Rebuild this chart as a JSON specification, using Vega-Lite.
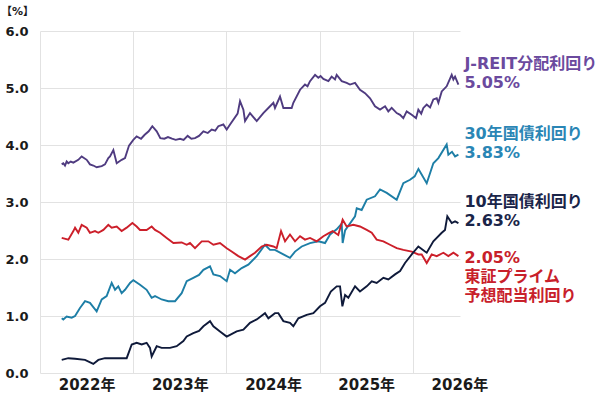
{
  "$schema": "https://vega.github.io/schema/vega-lite/v6.json",
  "width": 420,
  "height": 342,
  "autosize": "none",
  "padding": {"left": 40, "top": 31, "right": 140, "bottom": 20},
  "background": "white",
  "config": {"view": {"stroke": null}, "font": "'DejaVu Sans', 'Noto Sans CJK JP'"},
  "datasets": {
    "labels": [
      {"series": "J-REIT分配利回り", "lines": ["J-REIT分配利回り", "5.05%"]},
      {"series": "30年国債利回り", "lines": ["30年国債利回り", "3.83%"]},
      {"series": "10年国債利回り", "lines": ["10年国債利回り", "2.63%"]},
      {"series": "東証プライム予想配当利回り", "lines": ["2.05%", "東証プライム", "予想配当利回り"]}
    ],
    "yields": [
      {"series": "J-REIT分配利回り", "year": 2022.233, "value": 3.66},
      {"series": "J-REIT分配利回り", "year": 2022.250, "value": 3.68},
      {"series": "J-REIT分配利回り", "year": 2022.268, "value": 3.64},
      {"series": "J-REIT分配利回り", "year": 2022.286, "value": 3.71},
      {"series": "J-REIT分配利回り", "year": 2022.304, "value": 3.68},
      {"series": "J-REIT分配利回り", "year": 2022.330, "value": 3.71},
      {"series": "J-REIT分配利回り", "year": 2022.358, "value": 3.69},
      {"series": "J-REIT分配利回り", "year": 2022.411, "value": 3.74},
      {"series": "J-REIT分配利回り", "year": 2022.447, "value": 3.80},
      {"series": "J-REIT分配利回り", "year": 2022.501, "value": 3.74},
      {"series": "J-REIT分配利回り", "year": 2022.536, "value": 3.66},
      {"series": "J-REIT分配利回り", "year": 2022.572, "value": 3.64},
      {"series": "J-REIT分配利回り", "year": 2022.608, "value": 3.61},
      {"series": "J-REIT分配利回り", "year": 2022.662, "value": 3.63},
      {"series": "J-REIT分配利回り", "year": 2022.697, "value": 3.66},
      {"series": "J-REIT分配利回り", "year": 2022.733, "value": 3.77},
      {"series": "J-REIT分配利回り", "year": 2022.751, "value": 3.80},
      {"series": "J-REIT分配利回り", "year": 2022.787, "value": 3.91},
      {"series": "J-REIT分配利回り", "year": 2022.823, "value": 3.68},
      {"series": "J-REIT分配利回り", "year": 2022.876, "value": 3.74},
      {"series": "J-REIT分配利回り", "year": 2022.912, "value": 3.77},
      {"series": "J-REIT分配利回り", "year": 2022.955, "value": 3.99},
      {"series": "J-REIT分配利回り", "year": 2023.001, "value": 4.09},
      {"series": "J-REIT分配利回り", "year": 2023.037, "value": 4.15},
      {"series": "J-REIT分配利回り", "year": 2023.084, "value": 4.11},
      {"series": "J-REIT分配利回り", "year": 2023.123, "value": 4.18},
      {"series": "J-REIT分配利回り", "year": 2023.166, "value": 4.24},
      {"series": "J-REIT分配利回り", "year": 2023.205, "value": 4.33},
      {"series": "J-REIT分配利回り", "year": 2023.252, "value": 4.24},
      {"series": "J-REIT分配利回り", "year": 2023.291, "value": 4.12},
      {"series": "J-REIT分配利回り", "year": 2023.334, "value": 4.11},
      {"series": "J-REIT分配利回り", "year": 2023.373, "value": 4.14},
      {"series": "J-REIT分配利回り", "year": 2023.416, "value": 4.11},
      {"series": "J-REIT分配利回り", "year": 2023.456, "value": 4.09},
      {"series": "J-REIT分配利回り", "year": 2023.502, "value": 4.11},
      {"series": "J-REIT分配利回り", "year": 2023.541, "value": 4.09},
      {"series": "J-REIT分配利回り", "year": 2023.584, "value": 4.16},
      {"series": "J-REIT分配利回り", "year": 2023.624, "value": 4.11},
      {"series": "J-REIT分配利回り", "year": 2023.663, "value": 4.12},
      {"series": "J-REIT分配利回り", "year": 2023.706, "value": 4.16},
      {"series": "J-REIT分配利回り", "year": 2023.753, "value": 4.24},
      {"series": "J-REIT分配利回り", "year": 2023.800, "value": 4.21},
      {"series": "J-REIT分配利回り", "year": 2023.842, "value": 4.27},
      {"series": "J-REIT分配利回り", "year": 2023.880, "value": 4.25},
      {"series": "J-REIT分配利回り", "year": 2023.913, "value": 4.33},
      {"series": "J-REIT分配利回り", "year": 2023.967, "value": 4.36},
      {"series": "J-REIT分配利回り", "year": 2024.003, "value": 4.27},
      {"series": "J-REIT分配利回り", "year": 2024.039, "value": 4.36},
      {"series": "J-REIT分配利回り", "year": 2024.120, "value": 4.55},
      {"series": "J-REIT分配利回り", "year": 2024.146, "value": 4.77},
      {"series": "J-REIT分配利回り", "year": 2024.182, "value": 4.62},
      {"series": "J-REIT分配利回り", "year": 2024.200, "value": 4.42},
      {"series": "J-REIT分配利回り", "year": 2024.253, "value": 4.56},
      {"series": "J-REIT分配利回り", "year": 2024.325, "value": 4.42},
      {"series": "J-REIT分配利回り", "year": 2024.396, "value": 4.56},
      {"series": "J-REIT分配利回り", "year": 2024.468, "value": 4.68},
      {"series": "J-REIT分配利回り", "year": 2024.504, "value": 4.74},
      {"series": "J-REIT分配利回り", "year": 2024.521, "value": 4.65},
      {"series": "J-REIT分配利回り", "year": 2024.575, "value": 4.85},
      {"series": "J-REIT分配利回り", "year": 2024.611, "value": 4.65},
      {"series": "J-REIT分配利回り", "year": 2024.700, "value": 4.65},
      {"series": "J-REIT分配利回り", "year": 2024.718, "value": 4.74},
      {"series": "J-REIT分配利回り", "year": 2024.790, "value": 4.97},
      {"series": "J-REIT分配利回り", "year": 2024.843, "value": 5.06},
      {"series": "J-REIT分配利回り", "year": 2024.870, "value": 5.03},
      {"series": "J-REIT分配利回り", "year": 2024.897, "value": 5.12},
      {"series": "J-REIT分配利回り", "year": 2024.951, "value": 5.23},
      {"series": "J-REIT分配利回り", "year": 2024.986, "value": 5.18},
      {"series": "J-REIT分配利回り", "year": 2025.010, "value": 5.21},
      {"series": "J-REIT分配利回り", "year": 2025.040, "value": 5.16},
      {"series": "J-REIT分配利回り", "year": 2025.094, "value": 5.12},
      {"series": "J-REIT分配利回り", "year": 2025.129, "value": 5.20},
      {"series": "J-REIT分配利回り", "year": 2025.165, "value": 5.15},
      {"series": "J-REIT分配利回り", "year": 2025.183, "value": 5.23},
      {"series": "J-REIT分配利回り", "year": 2025.237, "value": 5.12},
      {"series": "J-REIT分配利回り", "year": 2025.290, "value": 5.09},
      {"series": "J-REIT分配利回り", "year": 2025.326, "value": 5.06},
      {"series": "J-REIT分配利回り", "year": 2025.380, "value": 5.09},
      {"series": "J-REIT分配利回り", "year": 2025.433, "value": 4.97},
      {"series": "J-REIT分配利回り", "year": 2025.487, "value": 4.91},
      {"series": "J-REIT分配利回り", "year": 2025.541, "value": 4.82},
      {"series": "J-REIT分配利回り", "year": 2025.594, "value": 4.68},
      {"series": "J-REIT分配利回り", "year": 2025.648, "value": 4.62},
      {"series": "J-REIT分配利回り", "year": 2025.702, "value": 4.68},
      {"series": "J-REIT分配利回り", "year": 2025.737, "value": 4.59},
      {"series": "J-REIT分配利回り", "year": 2025.773, "value": 4.65},
      {"series": "J-REIT分配利回り", "year": 2025.827, "value": 4.56},
      {"series": "J-REIT分配利回り", "year": 2025.863, "value": 4.53},
      {"series": "J-REIT分配利回り", "year": 2025.898, "value": 4.47},
      {"series": "J-REIT分配利回り", "year": 2025.934, "value": 4.59},
      {"series": "J-REIT分配利回り", "year": 2025.988, "value": 4.53},
      {"series": "J-REIT分配利回り", "year": 2026.034, "value": 4.47},
      {"series": "J-REIT分配利回り", "year": 2026.059, "value": 4.62},
      {"series": "J-REIT分配利回り", "year": 2026.090, "value": 4.55},
      {"series": "J-REIT分配利回り", "year": 2026.113, "value": 4.65},
      {"series": "J-REIT分配利回り", "year": 2026.149, "value": 4.71},
      {"series": "J-REIT分配利回り", "year": 2026.185, "value": 4.66},
      {"series": "J-REIT分配利回り", "year": 2026.220, "value": 4.80},
      {"series": "J-REIT分配利回り", "year": 2026.256, "value": 4.82},
      {"series": "J-REIT分配利回り", "year": 2026.274, "value": 4.74},
      {"series": "J-REIT分配利回り", "year": 2026.310, "value": 4.94},
      {"series": "J-REIT分配利回り", "year": 2026.363, "value": 5.03},
      {"series": "J-REIT分配利回り", "year": 2026.417, "value": 5.23},
      {"series": "J-REIT分配利回り", "year": 2026.435, "value": 5.15},
      {"series": "J-REIT分配利回り", "year": 2026.453, "value": 5.20},
      {"series": "J-REIT分配利回り", "year": 2026.489, "value": 5.06},

      {"series": "30年国債利回り", "year": 2022.233, "value": 0.96},
      {"series": "30年国債利回り", "year": 2022.250, "value": 0.94},
      {"series": "30年国債利回り", "year": 2022.286, "value": 0.99},
      {"series": "30年国債利回り", "year": 2022.340, "value": 0.97},
      {"series": "30年国債利回り", "year": 2022.376, "value": 1.00},
      {"series": "30年国債利回り", "year": 2022.429, "value": 1.14},
      {"series": "30年国債利回り", "year": 2022.483, "value": 1.26},
      {"series": "30年国債利回り", "year": 2022.536, "value": 1.23},
      {"series": "30年国債利回り", "year": 2022.608, "value": 1.08},
      {"series": "30年国債利回り", "year": 2022.662, "value": 1.29},
      {"series": "30年国債利回り", "year": 2022.715, "value": 1.35},
      {"series": "30年国債利回り", "year": 2022.769, "value": 1.58},
      {"series": "30年国債利回り", "year": 2022.805, "value": 1.46},
      {"series": "30年国債利回り", "year": 2022.840, "value": 1.52},
      {"series": "30年国債利回り", "year": 2022.876, "value": 1.40},
      {"series": "30年国債利回り", "year": 2022.912, "value": 1.46},
      {"series": "30年国債利回り", "year": 2022.966, "value": 1.58},
      {"series": "30年国債利回り", "year": 2023.001, "value": 1.63},
      {"series": "30年国債利回り", "year": 2023.073, "value": 1.55},
      {"series": "30年国債利回り", "year": 2023.144, "value": 1.46},
      {"series": "30年国債利回り", "year": 2023.198, "value": 1.32},
      {"series": "30年国債利回り", "year": 2023.234, "value": 1.35},
      {"series": "30年国債利回り", "year": 2023.270, "value": 1.32},
      {"series": "30年国債利回り", "year": 2023.305, "value": 1.29},
      {"series": "30年国債利回り", "year": 2023.377, "value": 1.26},
      {"series": "30年国債利回り", "year": 2023.449, "value": 1.26},
      {"series": "30年国債利回り", "year": 2023.520, "value": 1.40},
      {"series": "30年国債利回り", "year": 2023.574, "value": 1.61},
      {"series": "30年国債利回り", "year": 2023.645, "value": 1.67},
      {"series": "30年国債利回り", "year": 2023.706, "value": 1.72},
      {"series": "30年国債利回り", "year": 2023.753, "value": 1.81},
      {"series": "30年国債利回り", "year": 2023.824, "value": 1.87},
      {"series": "30年国債利回り", "year": 2023.860, "value": 1.73},
      {"series": "30年国債利回り", "year": 2023.931, "value": 1.70},
      {"series": "30年国債利回り", "year": 2024.003, "value": 1.61},
      {"series": "30年国債利回り", "year": 2024.039, "value": 1.81},
      {"series": "30年国債利回り", "year": 2024.092, "value": 1.75},
      {"series": "30年国債利回り", "year": 2024.164, "value": 1.84},
      {"series": "30年国債利回り", "year": 2024.235, "value": 1.90},
      {"series": "30年国債利回り", "year": 2024.325, "value": 2.05},
      {"series": "30年国債利回り", "year": 2024.414, "value": 2.25},
      {"series": "30年国債利回り", "year": 2024.468, "value": 2.16},
      {"series": "30年国債利回り", "year": 2024.521, "value": 2.16},
      {"series": "30年国債利回り", "year": 2024.611, "value": 2.08},
      {"series": "30年国債利回り", "year": 2024.682, "value": 2.02},
      {"series": "30年国債利回り", "year": 2024.736, "value": 2.13},
      {"series": "30年国債利回り", "year": 2024.808, "value": 2.22},
      {"series": "30年国債利回り", "year": 2024.897, "value": 2.28},
      {"series": "30年国債利回り", "year": 2024.986, "value": 2.31},
      {"series": "30年国債利回り", "year": 2025.058, "value": 2.28},
      {"series": "30年国債利回り", "year": 2025.112, "value": 2.43},
      {"series": "30年国債利回り", "year": 2025.183, "value": 2.52},
      {"series": "30年国債利回り", "year": 2025.237, "value": 2.62},
      {"series": "30年国債利回り", "year": 2025.247, "value": 2.28},
      {"series": "30年国債利回り", "year": 2025.273, "value": 2.50},
      {"series": "30年国債利回り", "year": 2025.380, "value": 2.75},
      {"series": "30年国債利回り", "year": 2025.398, "value": 2.89},
      {"series": "30年国債利回り", "year": 2025.451, "value": 2.86},
      {"series": "30年国債利回り", "year": 2025.505, "value": 3.04},
      {"series": "30年国債利回り", "year": 2025.594, "value": 3.10},
      {"series": "30年国債利回り", "year": 2025.648, "value": 3.22},
      {"series": "30年国債利回り", "year": 2025.720, "value": 3.16},
      {"series": "30年国債利回り", "year": 2025.827, "value": 3.04},
      {"series": "30年国債利回り", "year": 2025.898, "value": 3.33},
      {"series": "30年国債利回り", "year": 2025.970, "value": 3.39},
      {"series": "30年国債利回り", "year": 2026.020, "value": 3.45},
      {"series": "30年国債利回り", "year": 2026.060, "value": 3.58},
      {"series": "30年国債利回り", "year": 2026.149, "value": 3.33},
      {"series": "30年国債利回り", "year": 2026.220, "value": 3.68},
      {"series": "30年国債利回り", "year": 2026.274, "value": 3.77},
      {"series": "30年国債利回り", "year": 2026.363, "value": 4.01},
      {"series": "30年国債利回り", "year": 2026.381, "value": 3.83},
      {"series": "30年国債利回り", "year": 2026.420, "value": 3.88},
      {"series": "30年国債利回り", "year": 2026.453, "value": 3.80},
      {"series": "30年国債利回り", "year": 2026.489, "value": 3.83},

      {"series": "東証プライム予想配当利回り", "year": 2022.233, "value": 2.37},
      {"series": "東証プライム予想配当利回り", "year": 2022.304, "value": 2.34},
      {"series": "東証プライム予想配当利回り", "year": 2022.358, "value": 2.49},
      {"series": "東証プライム予想配当利回り", "year": 2022.376, "value": 2.55},
      {"series": "東証プライム予想配当利回り", "year": 2022.411, "value": 2.46},
      {"series": "東証プライム予想配当利回り", "year": 2022.447, "value": 2.60},
      {"series": "東証プライム予想配当利回り", "year": 2022.501, "value": 2.55},
      {"series": "東証プライム予想配当利回り", "year": 2022.536, "value": 2.46},
      {"series": "東証プライム予想配当利回り", "year": 2022.590, "value": 2.49},
      {"series": "東証プライム予想配当利回り", "year": 2022.626, "value": 2.46},
      {"series": "東証プライム予想配当利回り", "year": 2022.680, "value": 2.51},
      {"series": "東証プライム予想配当利回り", "year": 2022.733, "value": 2.60},
      {"series": "東証プライム予想配当利回り", "year": 2022.769, "value": 2.55},
      {"series": "東証プライム予想配当利回り", "year": 2022.823, "value": 2.57},
      {"series": "東証プライム予想配当利回り", "year": 2022.876, "value": 2.49},
      {"series": "東証プライム予想配当利回り", "year": 2022.930, "value": 2.55},
      {"series": "東証プライム予想配当利回り", "year": 2022.991, "value": 2.63},
      {"series": "東証プライム予想配当利回り", "year": 2023.037, "value": 2.57},
      {"series": "東証プライム予想配当利回り", "year": 2023.073, "value": 2.51},
      {"series": "東証プライム予想配当利回り", "year": 2023.144, "value": 2.51},
      {"series": "東証プライム予想配当利回り", "year": 2023.198, "value": 2.57},
      {"series": "東証プライム予想配当利回り", "year": 2023.234, "value": 2.51},
      {"series": "東証プライム予想配当利回り", "year": 2023.288, "value": 2.46},
      {"series": "東証プライム予想配当利回り", "year": 2023.359, "value": 2.37},
      {"series": "東証プライム予想配当利回り", "year": 2023.431, "value": 2.28},
      {"series": "東証プライム予想配当利回り", "year": 2023.520, "value": 2.29},
      {"series": "東証プライム予想配当利回り", "year": 2023.574, "value": 2.25},
      {"series": "東証プライム予想配当利回り", "year": 2023.609, "value": 2.28},
      {"series": "東証プライム予想配当利回り", "year": 2023.663, "value": 2.19},
      {"series": "東証プライム予想配当利回り", "year": 2023.735, "value": 2.31},
      {"series": "東証プライム予想配当利回り", "year": 2023.806, "value": 2.31},
      {"series": "東証プライム予想配当利回り", "year": 2023.860, "value": 2.25},
      {"series": "東証プライム予想配当利回り", "year": 2023.931, "value": 2.28},
      {"series": "東証プライム予想配当利回り", "year": 2024.003, "value": 2.19},
      {"series": "東証プライム予想配当利回り", "year": 2024.056, "value": 2.13},
      {"series": "東証プライム予想配当利回り", "year": 2024.128, "value": 2.05},
      {"series": "東証プライム予想配当利回り", "year": 2024.200, "value": 1.99},
      {"series": "東証プライム予想配当利回り", "year": 2024.253, "value": 2.05},
      {"series": "東証プライム予想配当利回り", "year": 2024.307, "value": 2.11},
      {"series": "東証プライム予想配当利回り", "year": 2024.378, "value": 2.22},
      {"series": "東証プライム予想配当利回り", "year": 2024.432, "value": 2.25},
      {"series": "東証プライム予想配当利回り", "year": 2024.504, "value": 2.22},
      {"series": "東証プライム予想配当利回り", "year": 2024.539, "value": 2.19},
      {"series": "東証プライム予想配当利回り", "year": 2024.586, "value": 2.49},
      {"series": "東証プライム予想配当利回り", "year": 2024.629, "value": 2.31},
      {"series": "東証プライム予想配当利回り", "year": 2024.682, "value": 2.43},
      {"series": "東証プライム予想配当利回り", "year": 2024.736, "value": 2.31},
      {"series": "東証プライム予想配当利回り", "year": 2024.790, "value": 2.40},
      {"series": "東証プライム予想配当利回り", "year": 2024.843, "value": 2.34},
      {"series": "東証プライム予想配当利回り", "year": 2024.897, "value": 2.37},
      {"series": "東証プライム予想配当利回り", "year": 2024.969, "value": 2.31},
      {"series": "東証プライム予想配当利回り", "year": 2025.040, "value": 2.40},
      {"series": "東証プライム予想配当利回り", "year": 2025.094, "value": 2.45},
      {"series": "東証プライム予想配当利回り", "year": 2025.140, "value": 2.49},
      {"series": "東証プライム予想配当利回り", "year": 2025.200, "value": 2.42},
      {"series": "東証プライム予想配当利回り", "year": 2025.247, "value": 2.69},
      {"series": "東証プライム予想配当利回り", "year": 2025.290, "value": 2.57},
      {"series": "東証プライム予想配当利回り", "year": 2025.362, "value": 2.60},
      {"series": "東証プライム予想配当利回り", "year": 2025.433, "value": 2.57},
      {"series": "東証プライム予想配当利回り", "year": 2025.505, "value": 2.51},
      {"series": "東証プライム予想配当利回り", "year": 2025.559, "value": 2.46},
      {"series": "東証プライム予想配当利回り", "year": 2025.612, "value": 2.34},
      {"series": "東証プライム予想配当利回り", "year": 2025.684, "value": 2.31},
      {"series": "東証プライム予想配当利回り", "year": 2025.755, "value": 2.25},
      {"series": "東証プライム予想配当利回り", "year": 2025.827, "value": 2.19},
      {"series": "東証プライム予想配当利回り", "year": 2025.898, "value": 2.16},
      {"series": "東証プライム予想配当利回り", "year": 2025.988, "value": 2.13},
      {"series": "東証プライム予想配当利回り", "year": 2026.059, "value": 2.08},
      {"series": "東証プライム予想配当利回り", "year": 2026.095, "value": 2.08},
      {"series": "東証プライム予想配当利回り", "year": 2026.149, "value": 1.93},
      {"series": "東証プライム予想配当利回り", "year": 2026.202, "value": 2.08},
      {"series": "東証プライム予想配当利回り", "year": 2026.256, "value": 2.05},
      {"series": "東証プライム予想配当利回り", "year": 2026.328, "value": 2.11},
      {"series": "東証プライム予想配当利回り", "year": 2026.381, "value": 2.05},
      {"series": "東証プライム予想配当利回り", "year": 2026.435, "value": 2.11},
      {"series": "東証プライム予想配当利回り", "year": 2026.489, "value": 2.05},

      {"series": "10年国債利回り", "year": 2022.233, "value": 0.23},
      {"series": "10年国債利回り", "year": 2022.304, "value": 0.26},
      {"series": "10年国債利回り", "year": 2022.376, "value": 0.25},
      {"series": "10年国債利回り", "year": 2022.483, "value": 0.23},
      {"series": "10年国債利回り", "year": 2022.572, "value": 0.16},
      {"series": "10年国債利回り", "year": 2022.626, "value": 0.23},
      {"series": "10年国債利回り", "year": 2022.697, "value": 0.26},
      {"series": "10年国債利回り", "year": 2022.805, "value": 0.26},
      {"series": "10年国債利回り", "year": 2022.930, "value": 0.26},
      {"series": "10年国債利回り", "year": 2022.984, "value": 0.50},
      {"series": "10年国債利回り", "year": 2023.037, "value": 0.53},
      {"series": "10年国債利回り", "year": 2023.091, "value": 0.50},
      {"series": "10年国債利回り", "year": 2023.144, "value": 0.53},
      {"series": "10年国債利回り", "year": 2023.180, "value": 0.44},
      {"series": "10年国債利回り", "year": 2023.198, "value": 0.29},
      {"series": "10年国債利回り", "year": 2023.252, "value": 0.47},
      {"series": "10年国債利回り", "year": 2023.305, "value": 0.44},
      {"series": "10年国債利回り", "year": 2023.395, "value": 0.44},
      {"series": "10年国債利回り", "year": 2023.466, "value": 0.47},
      {"series": "10年国債利回り", "year": 2023.538, "value": 0.56},
      {"series": "10年国債利回り", "year": 2023.574, "value": 0.64},
      {"series": "10年国債利回り", "year": 2023.645, "value": 0.70},
      {"series": "10年国債利回り", "year": 2023.706, "value": 0.74},
      {"series": "10年国債利回り", "year": 2023.753, "value": 0.82},
      {"series": "10年国債利回り", "year": 2023.824, "value": 0.91},
      {"series": "10年国債利回り", "year": 2023.860, "value": 0.82},
      {"series": "10年国債利回り", "year": 2023.931, "value": 0.73},
      {"series": "10年国債利回り", "year": 2024.003, "value": 0.64},
      {"series": "10年国債利回り", "year": 2024.039, "value": 0.67},
      {"series": "10年国債利回り", "year": 2024.110, "value": 0.73},
      {"series": "10年国債利回り", "year": 2024.182, "value": 0.76},
      {"series": "10年国債利回り", "year": 2024.253, "value": 0.88},
      {"series": "10年国債利回り", "year": 2024.325, "value": 0.94},
      {"series": "10年国債利回り", "year": 2024.414, "value": 1.05},
      {"series": "10年国債利回り", "year": 2024.450, "value": 0.96},
      {"series": "10年国債利回り", "year": 2024.521, "value": 1.05},
      {"series": "10年国債利回り", "year": 2024.557, "value": 1.05},
      {"series": "10年国債利回り", "year": 2024.611, "value": 0.91},
      {"series": "10年国債利回り", "year": 2024.682, "value": 0.88},
      {"series": "10年国債利回り", "year": 2024.718, "value": 0.82},
      {"series": "10年国債利回り", "year": 2024.772, "value": 0.96},
      {"series": "10年国債利回り", "year": 2024.861, "value": 1.02},
      {"series": "10年国債利回り", "year": 2024.933, "value": 1.05},
      {"series": "10年国債利回り", "year": 2025.004, "value": 1.17},
      {"series": "10年国債利回り", "year": 2025.058, "value": 1.23},
      {"series": "10年国債利回り", "year": 2025.120, "value": 1.43},
      {"series": "10年国債利回り", "year": 2025.183, "value": 1.52},
      {"series": "10年国債利回り", "year": 2025.219, "value": 1.52},
      {"series": "10年国債利回り", "year": 2025.244, "value": 1.17},
      {"series": "10年国債利回り", "year": 2025.273, "value": 1.37},
      {"series": "10年国債利回り", "year": 2025.308, "value": 1.32},
      {"series": "10年国債利回り", "year": 2025.380, "value": 1.52},
      {"series": "10年国債利回り", "year": 2025.433, "value": 1.43},
      {"series": "10年国債利回り", "year": 2025.505, "value": 1.52},
      {"series": "10年国債利回り", "year": 2025.559, "value": 1.61},
      {"series": "10年国債利回り", "year": 2025.612, "value": 1.58},
      {"series": "10年国債利回り", "year": 2025.684, "value": 1.67},
      {"series": "10年国債利回り", "year": 2025.737, "value": 1.64},
      {"series": "10年国債利回り", "year": 2025.809, "value": 1.73},
      {"series": "10年国債利回り", "year": 2025.863, "value": 1.79},
      {"series": "10年国債利回り", "year": 2025.916, "value": 1.93},
      {"series": "10年国債利回り", "year": 2025.988, "value": 2.08},
      {"series": "10年国債利回り", "year": 2026.059, "value": 2.22},
      {"series": "10年国債利回り", "year": 2026.131, "value": 2.13},
      {"series": "10年国債利回り", "year": 2026.149, "value": 2.11},
      {"series": "10年国債利回り", "year": 2026.220, "value": 2.31},
      {"series": "10年国債利回り", "year": 2026.310, "value": 2.46},
      {"series": "10年国債利回り", "year": 2026.345, "value": 2.51},
      {"series": "10年国債利回り", "year": 2026.370, "value": 2.75},
      {"series": "10年国債利回り", "year": 2026.417, "value": 2.63},
      {"series": "10年国債利回り", "year": 2026.453, "value": 2.66},
      {"series": "10年国債利回り", "year": 2026.489, "value": 2.63}
    ]
  },
  "resolve": {"scale": {"color": "independent"}},
  "layer": [
    {
      "data": {"name": "yields"},
      "mark": {"type": "line", "strokeWidth": 1.9},
      "encoding": {
        "x": {
          "field": "year", "type": "quantitative",
          "scale": {"domain": [2022, 2026.506], "nice": false, "zero": false},
          "axis": {
            "values": [2022, 2023, 2024, 2025, 2026],
            "labelExpr": "datum.value + '年'",
            "labelOffset": 46.6,
            "grid": true, "gridColor": "#e2e2e2", "gridWidth": 1,
            "domain": false, "ticks": false,
            "labelFontSize": 15, "labelFontWeight": "bold", "labelColor": "#1a1a1a",
            "labelPadding": 4, "labelFlush": false, "labelOverlap": false, "labelBound": false,
            "title": null
          }
        },
        "y": {
          "field": "value", "type": "quantitative",
          "scale": {"domain": [0, 6], "nice": false},
          "axis": {
            "values": [0, 1, 2, 3, 4, 5, 6], "format": ".1f",
            "grid": true, "gridColor": "#e2e2e2", "gridWidth": 1,
            "domain": false, "ticks": false,
            "labelFontSize": 13, "labelFontWeight": "bold", "labelColor": "#1a1a1a",
            "labelPadding": 12,
            "title": "【%】", "titleAngle": 0, "titleX": -23, "titleY": -20,
            "titleAlign": "center", "titleBaseline": "middle",
            "titleFontSize": 11, "titleFontWeight": "bold", "titleColor": "#1a1a1a"
          }
        },
        "color": {
          "field": "series", "type": "nominal",
          "scale": {
            "domain": ["J-REIT分配利回り", "30年国債利回り", "10年国債利回り", "東証プライム予想配当利回り"],
            "range": ["#4f3b80", "#1d7ea6", "#0f1a3a", "#cc1f2a"]
          },
          "legend": null
        }
      }
    },
    {
      "data": {"name": "yields"},
      "transform": [
        {"aggregate": [{"op": "argmax", "field": "year", "as": "last"}], "groupby": ["series"]},
        {"lookup": "series", "from": {"data": {"name": "labels"}, "key": "series", "fields": ["lines"]}},
        {"filter": "datum.series !== '東証プライム予想配当利回り'"}
      ],
      "mark": {"type": "text", "align": "left", "baseline": "middle", "dx": 6, "dy": -21, "fontSize": 16, "fontWeight": "bold", "lineHeight": 19},
      "encoding": {
        "x": {"field": "last.year", "type": "quantitative"},
        "y": {"field": "last.value", "type": "quantitative"},
        "text": {"field": "lines"},
        "color": {
          "field": "series", "type": "nominal",
          "scale": {
            "domain": ["J-REIT分配利回り", "30年国債利回り", "10年国債利回り", "東証プライム予想配当利回り"],
            "range": ["#6b4a9e", "#2a86b5", "#1a2549", "#c8202a"]
          },
          "legend": null
        }
      }
    },
    {
      "data": {"name": "yields"},
      "transform": [
        {"aggregate": [{"op": "argmax", "field": "year", "as": "last"}], "groupby": ["series"]},
        {"lookup": "series", "from": {"data": {"name": "labels"}, "key": "series", "fields": ["lines"]}},
        {"filter": "datum.series === '東証プライム予想配当利回り'"}
      ],
      "mark": {"type": "text", "align": "left", "baseline": "middle", "dx": 6, "dy": 2, "fontSize": 16, "fontWeight": "bold", "lineHeight": 19},
      "encoding": {
        "x": {"field": "last.year", "type": "quantitative"},
        "y": {"field": "last.value", "type": "quantitative"},
        "text": {"field": "lines"},
        "color": {"value": "#c8202a"}
      }
    }
  ]
}
